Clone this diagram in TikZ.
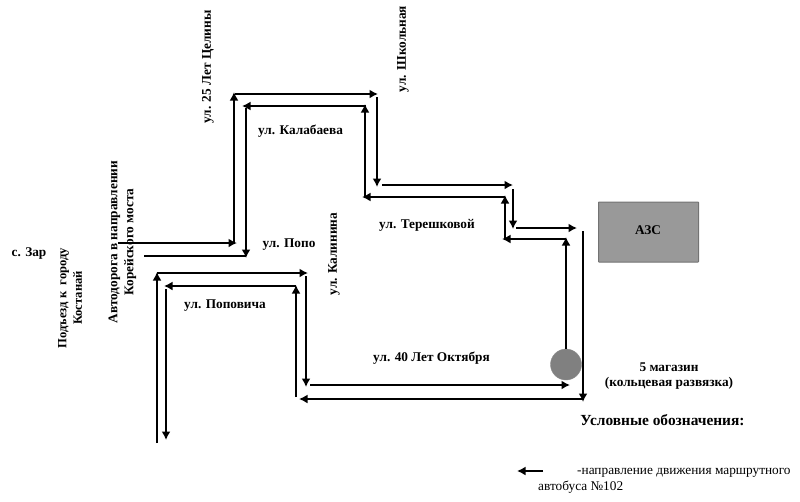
\documentclass[tikz,border=0pt]{standalone}
\usepackage{fontspec}
\setmainfont{Liberation Serif}
\usetikzlibrary{arrows.meta, positioning, calc}

\begin{document}
\begin{tikzpicture}[
  x=1pt, y=-1pt,
  street/.style={inner sep=0pt, align=center, font=\bfseries\fontsize{13.3}{15}\selectfont},
  vstreet/.style={street, rotate=90},
  legendtxt/.style={inner sep=0pt, font=\fontsize{13.3}{15}\selectfont},
  azsbox/.style={draw=black!55, fill=black!40, line width=1pt, rounded corners=0.5pt,
                 minimum width=100pt, minimum height=60pt, inner sep=0pt},
  ringnode/.style={circle, fill=black!50, draw=black!45, minimum size=31pt, inner sep=0pt},
  ar/.style={-{Latex[length=8.5pt, width=9pt]}, line width=2.8pt},
  plainroad/.style={line width=2.8pt}
]
\useasboundingbox (0,0) rectangle (800,501);

\node[street] (zar) at (29,254) {с. Зар};
\node[vstreet, font=\bfseries\fontsize{12.6}{15.5}\selectfont] (kostanay) at (70,298) {Подъезд к~ городу\\Костанай};
\node[vstreet, font=\bfseries\fontsize{13.3}{16}\selectfont] (most) at (122.5,242) {Автодорога в направлении\\Корейского моста};
\node[vstreet] (tselina) at (208,67) {ул. 25 Лет Целины};
\node[vstreet] (shkola) at (403,49) {ул. Школьная};
\node[vstreet] (kalinin) at (334,254) {ул. Калинина};
\node[street] (kalabaev) at (300.5,131) {ул. Калабаева};
\node[street] (popov) at (289,245) {ул. Попо};
\node[street] (teresh) at (427,225) {ул. Терешковой};
\node[street] (popovich) at (225,306) {ул. Поповича};
\node[street] (oct) at (431.5,358) {ул. 40 Лет Октября};
\node[street] (shop) at (669,376) {5 магазин\\(кольцевая развязка)};
\node[street, font=\bfseries\fontsize{15.4}{17}\selectfont] (legend) at (662.5,420) {Условные обозначения:};
\node[legendtxt, anchor=west] (legend1) at (577,473) {-направление движения маршрутного};
\node[legendtxt, anchor=west] (legend2) at (538,487.5) {автобуса №102};

\node[azsbox] (azs) at (648.5,232) {};
\node[street] (azstxt) at (648,230) {АЗС};
\node[ringnode] (ring) at (566,364.5) {};

\coordinate (o1) at (118,243);   \coordinate (o1e) at (237,243);
\coordinate (o2) at (234,243);   \coordinate (o2e) at (234,92);
\coordinate (o3) at (235,94);    \coordinate (o3e) at (378,94);
\coordinate (o4) at (377,97);    \coordinate (o4e) at (377,187);
\coordinate (o5) at (382,185);   \coordinate (o5e) at (513,185);
\coordinate (o6) at (513,189);   \coordinate (o6e) at (513,229);
\coordinate (o7) at (516,228);   \coordinate (o7e) at (577,228);
\coordinate (o8) at (583,231);   \coordinate (o8e) at (583,402);
\coordinate (o9) at (583,399);   \coordinate (o9e) at (299,399);
\coordinate (o10) at (296,397);  \coordinate (o10e) at (296,285);
\coordinate (o11) at (296,286);  \coordinate (o11e) at (164,286);
\coordinate (o12) at (166,289);  \coordinate (o12e) at (166,440);

\coordinate (r1) at (157,443);   \coordinate (r1e) at (157,272);
\coordinate (r2) at (157,273);   \coordinate (r2e) at (308,273);
\coordinate (r3) at (306,276);   \coordinate (r3e) at (306,387);
\coordinate (r4) at (310,385);   \coordinate (r4e) at (570,385);
\coordinate (r5e) at (566,237);
\coordinate (r6) at (566,239);   \coordinate (r6e) at (502,239);
\coordinate (r7) at (505,238);   \coordinate (r7e) at (505,195);
\coordinate (r8) at (505,197);   \coordinate (r8e) at (362,197);
\coordinate (r9) at (365,197);   \coordinate (r9e) at (365,104);
\coordinate (r10) at (366,106);  \coordinate (r10e) at (242,106);
\coordinate (r11) at (246,108);  \coordinate (r11e) at (246,258);
\coordinate (r12) at (246,256);  \coordinate (r12e) at (144,256);

\coordinate (lg) at (543,471);   \coordinate (lge) at (517,471);

\draw[plainroad] (r12) -- (r12e);
\draw[ar] (o1) -- (o1e);
\draw[ar] (o2) -- (o2e);
\draw[ar] (o3) -- (o3e);
\draw[ar] (o4) -- (o4e);
\draw[ar] (o5) -- (o5e);
\draw[ar] (o6) -- (o6e);
\draw[ar] (o7) -- (o7e);
\draw[ar] (o8) -- (o8e);
\draw[ar] (o9) -- (o9e);
\draw[ar] (o10) -- (o10e);
\draw[ar] (o11) -- (o11e);
\draw[ar] (o12) -- (o12e);
\draw[ar] (r1) -- (r1e);
\draw[ar] (r2) -- (r2e);
\draw[ar] (r3) -- (r3e);
\draw[ar] (r4) -- (r4e);
\draw[ar] (ring) -- (r5e);
\draw[ar] (r6) -- (r6e);
\draw[ar] (r7) -- (r7e);
\draw[ar] (r8) -- (r8e);
\draw[ar] (r9) -- (r9e);
\draw[ar] (r10) -- (r10e);
\draw[ar] (r11) -- (r11e);
\draw[ar] (lg) -- (lge);
\end{tikzpicture}
\end{document}
